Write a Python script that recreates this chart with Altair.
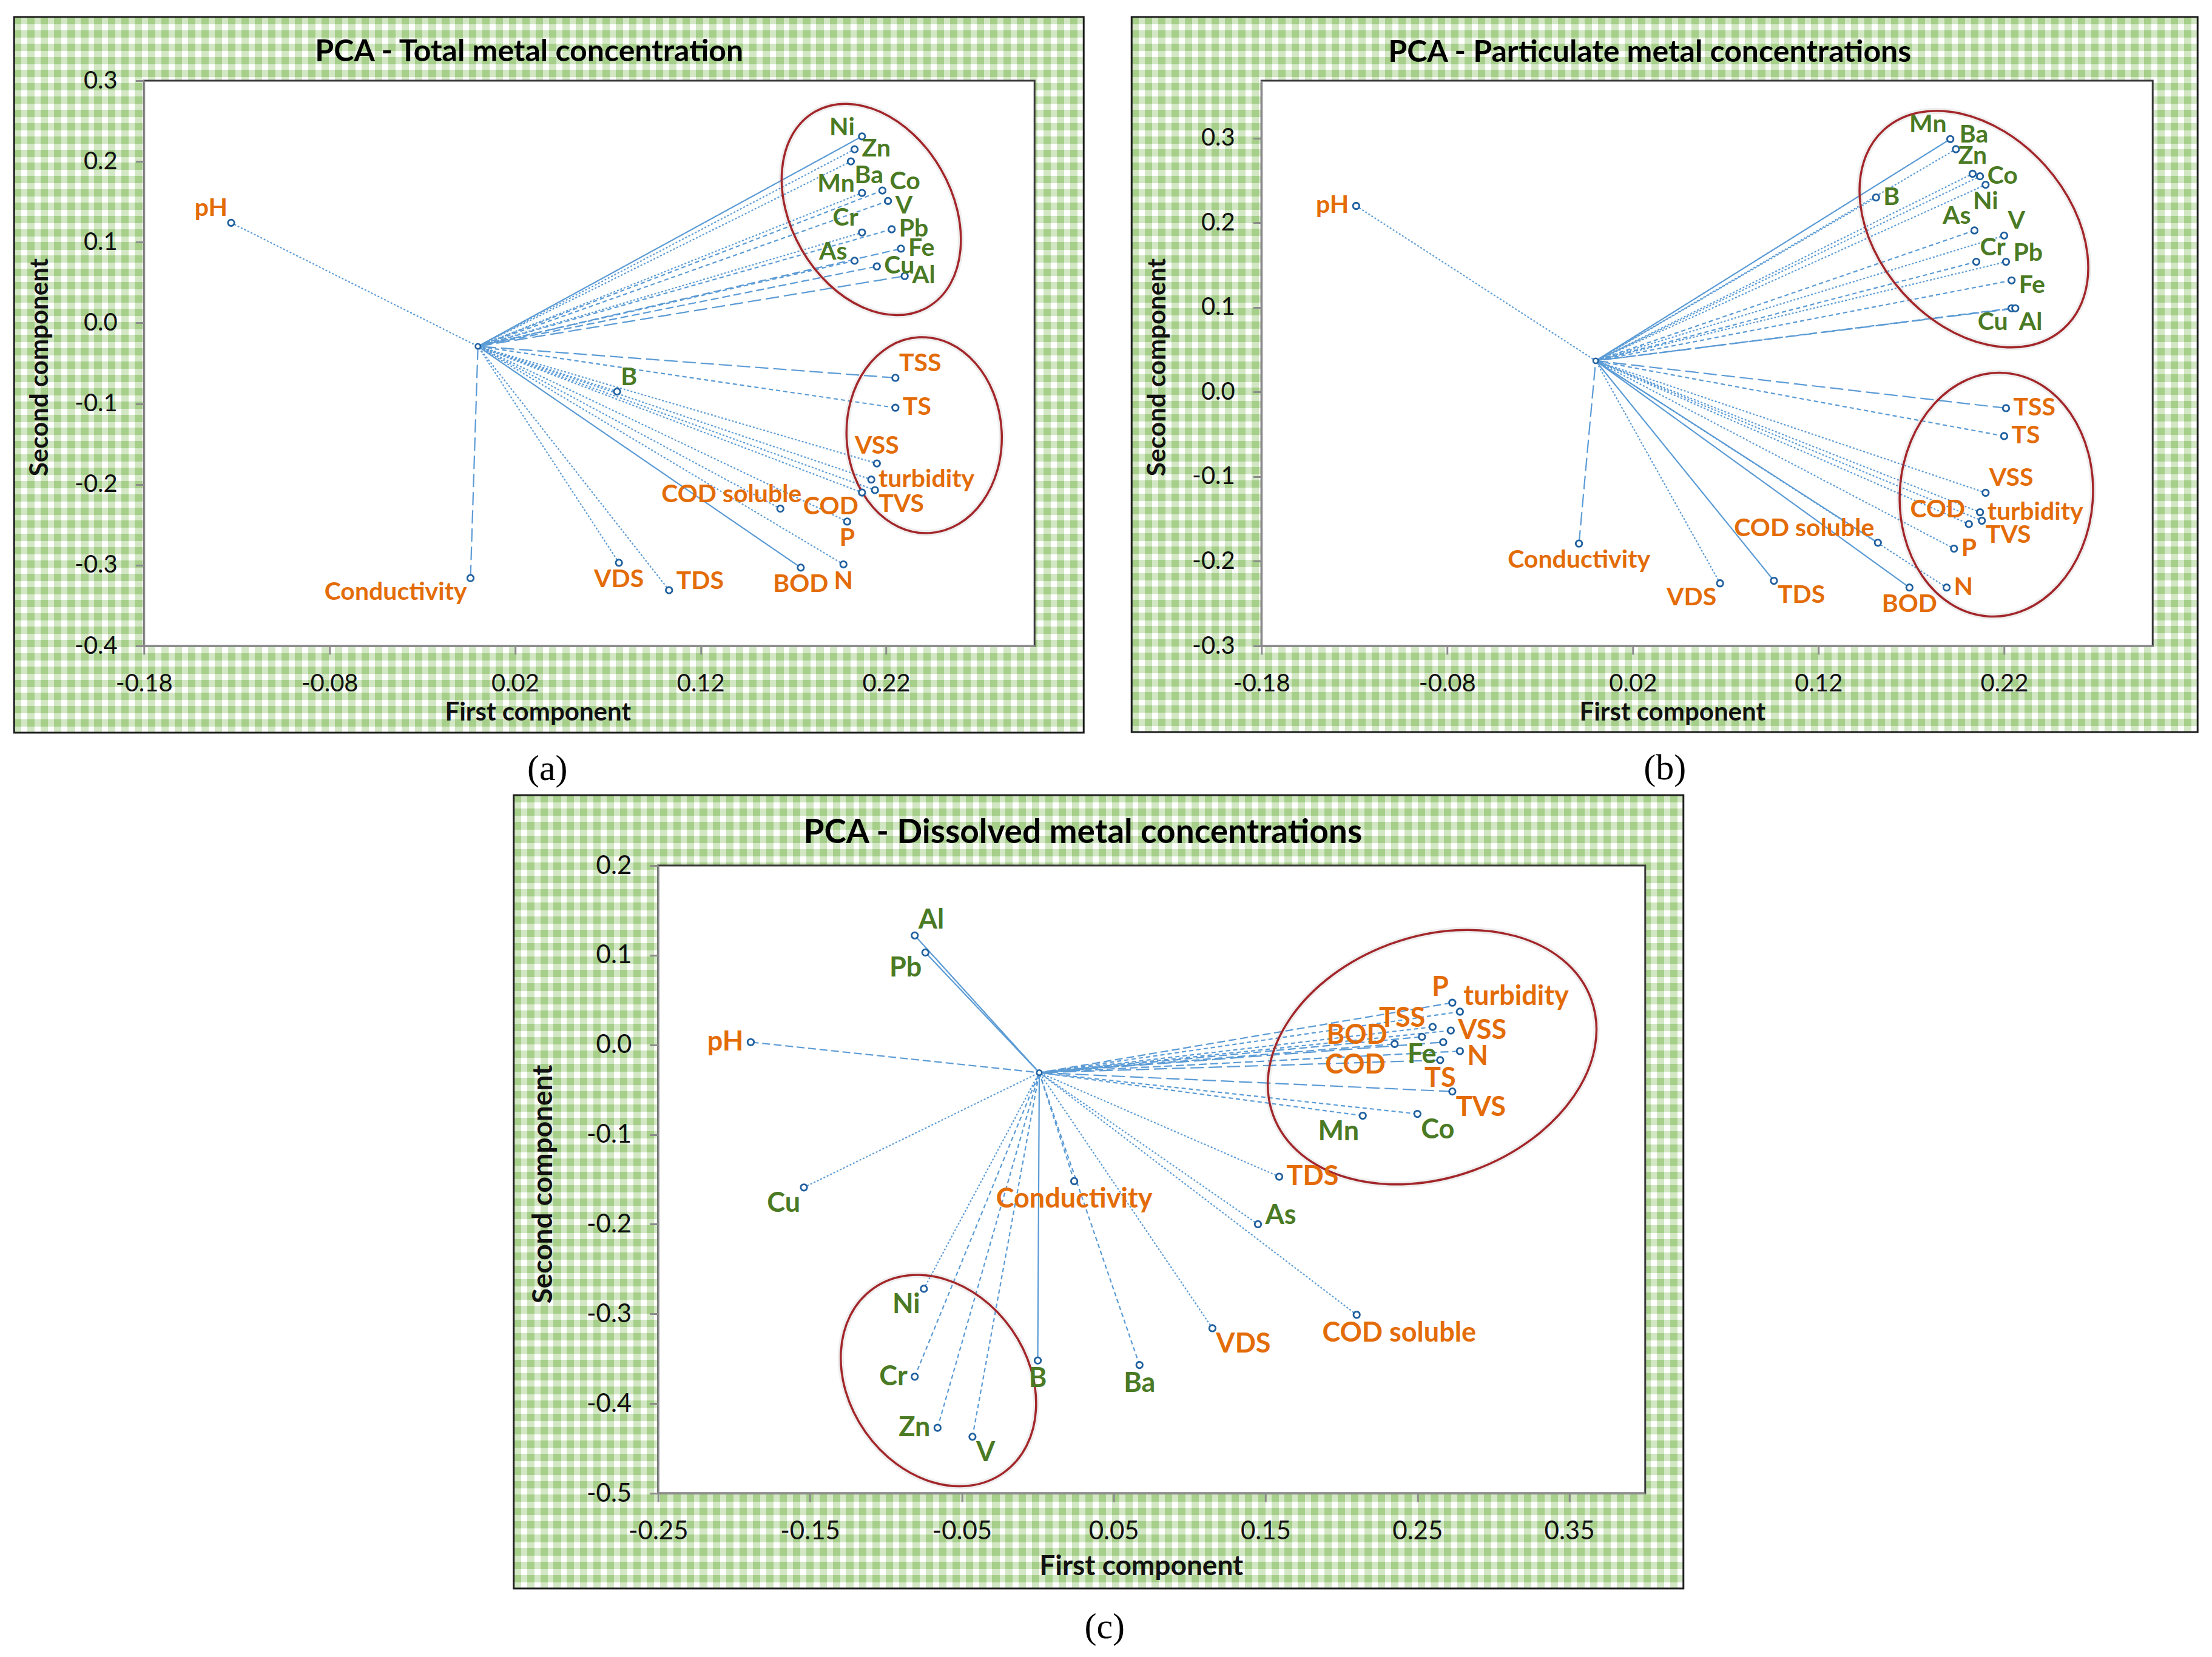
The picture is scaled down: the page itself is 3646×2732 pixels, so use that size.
import altair as alt
import pandas as pd

METALS = ["Al", "As", "B", "Ba", "Co", "Cr", "Cu", "Fe", "Mn", "Ni", "Pb", "V", "Zn"]

# ---------------- (a) Total metal concentration ----------------
names_a = ["Ni", "Zn", "Ba", "Mn", "Co", "V", "Cr", "Pb", "Fe", "As", "Cu", "Al", "B",
           "pH", "TSS", "TS", "VSS", "turbidity", "TVS", "COD", "P", "COD soluble",
           "VDS", "TDS", "BOD", "N", "Conductivity"]
pc1_a = [0.207, 0.203, 0.201, 0.207, 0.218, 0.221, 0.207, 0.223, 0.228, 0.203, 0.215, 0.230, 0.075,
         -0.133, 0.225, 0.225, 0.215, 0.212, 0.214, 0.207, 0.199, 0.163,
         0.076, 0.103, 0.174, 0.197, -0.004]
pc2_a = [0.231, 0.215, 0.200, 0.161, 0.164, 0.151, 0.112, 0.116, 0.092, 0.077, 0.070, 0.058, -0.085,
         0.124, -0.068, -0.105, -0.174, -0.194, -0.207, -0.210, -0.246, -0.230,
         -0.297, -0.331, -0.303, -0.299, -0.316]
origin_a = [0.000, -0.029]
ell_x_a = [0.212, 0.2405]
ell_y_a = [0.1405, -0.139]

# ---------------- (b) Particulate metal concentrations ----------------
names_b = ["Mn", "Ba", "Zn", "Co", "Ni", "B", "As", "V", "Cr", "Pb", "Fe", "Cu", "Al",
           "pH", "TSS", "TS", "VSS", "turbidity", "TVS", "COD", "P", "COD soluble",
           "BOD", "N", "VDS", "TDS", "Conductivity"]
pc1_b = [0.191, 0.194, 0.203, 0.207, 0.210, 0.151, 0.204, 0.220, 0.205, 0.221, 0.224, 0.224, 0.226,
         -0.129, 0.221, 0.220, 0.210, 0.207, 0.208, 0.201, 0.193, 0.152,
         0.169, 0.189, 0.067, 0.096, -0.009]
pc2_b = [0.299, 0.287, 0.258, 0.255, 0.245, 0.230, 0.191, 0.185, 0.154, 0.154, 0.132, 0.099, 0.099,
         0.220, -0.019, -0.052, -0.119, -0.142, -0.152, -0.156, -0.185, -0.178,
         -0.231, -0.231, -0.226, -0.223, -0.179]
origin_b = [0.000, 0.037]
ell_x_b = [0.2037, 0.2158]
ell_y_b = [0.1926, -0.1212]

# ---------------- (c) Dissolved metal concentrations ----------------
names_c = ["Al", "Pb", "Cu", "As", "Ni", "B", "Ba", "Cr", "Zn", "V", "Fe", "Mn", "Co",
           "pH", "Conductivity", "TDS", "VDS", "COD soluble", "P", "turbidity", "TSS",
           "VSS", "COD", "BOD", "N", "TS", "TVS"]
pc1_c = [-0.081, -0.074, -0.154, 0.145, -0.075, 0.000, 0.067, -0.081, -0.066, -0.043, 0.253, 0.214, 0.250,
         -0.189, 0.024, 0.159, 0.115, 0.210, 0.273, 0.278, 0.260,
         0.272, 0.267, 0.235, 0.278, 0.265, 0.273]
pc2_c = [0.122, 0.103, -0.159, -0.200, -0.272, -0.352, -0.357, -0.370, -0.427, -0.437, 0.009, -0.079, -0.077,
         0.003, -0.152, -0.147, -0.316, -0.301, 0.047, 0.037, 0.020,
         0.016, 0.003, 0.001, -0.007, -0.017, -0.052]
origin_c = [0.001, -0.031]
ell_x_c = [0.2597, -0.0654]
ell_y_c = [-0.0137, -0.3744]

# ---------------- label placement and line style (styling) ----------------
pos_a = ["Lup", "R", "BR", "Lup", "Rup", "Rdn", "TL", "R", "R", "Lup", "R", "R", "TR",
         "TL", "TR", "R", "T", "R", "BR", "BL", "B", "TLs", "B", "Rup", "B", "B", "BL"]
line_a = ["solid", "dot", "dot", "dot", "sdash", "sdash", "dot", "sdash", "dash", "sdash", "dash", "ldash", "dot",
          "dot", "ldash", "sdash", "dot", "dot", "dot", "dot", "dot", "dot", "dot", "dot", "solid", "dot", "ldash"]
pos_b = ["TL", "TR", "T", "R", "B", "R", "TL", "TR", "TR", "Rup", "Rdn", "BL", "BR",
         "L", "R", "R", "TR", "R", "BR", "TL", "R", "TL", "B", "R", "BL", "BR", "B"]
line_b = ["solid", "dot", "dot", "dot", "dot", "dot", "sdash", "dot", "sdash", "dot", "sdash", "dash", "ldash",
          "dot", "ldash", "sdash", "dot", "dot", "dot", "dot", "dot", "solid", "solid", "dot", "dot", "solid", "ldash"]
pos_c = ["TR", "BL", "BL", "Rup", "BL", "B", "B", "L", "L", "BR", "B", "BL", "BR",
         "L", "B", "R", "BR", "Bs", "TL", "TR", "Lup", "R", "BLfar", "Lup", "Rdn", "B", "BR"]
line_c = ["solid", "solid", "dot", "dot", "dot", "solid", "sdash", "sdash", "sdash", "sdash", "dash", "sdash", "sdash",
          "dash", "sdash", "dot", "dot", "dot", "dash", "sdash", "sdash", "sdash", "ldash", "dash", "dash", "ldash", "ldash"]

# ellipse styling: (semi-major px, semi-minor px, rotation deg)
ell_style_a = [(186, 132.5, 330), (161.6, 127.9, 357)]
ell_style_b = [(220.9, 176.7, 318), (201.1, 168.6, 4)]
ell_style_c = [(279, 162.8, 70), (186, 127.9, 325)]

GREEN = "#4A7A24"
ORANGE = "#E36C09"
LINE = "#5B9BD5"
MARKER = "#1F5F9E"
RING = "#A3262A"
CHECK_G = "#A6CF8A"
CHECK_W = "#FFFFFF"
FONT = "Lato"
SERIF = "Liberation Serif"

DASH = {"solid": [1, 0], "dot": [3, 3], "sdash": [7, 5], "dash": [13, 6], "ldash": [22, 8]}
PLACE = {
    "R": dict(align="left", baseline="middle", dx=12, dy=0),
    "Rup": dict(align="left", baseline="middle", dx=12, dy=-14),
    "Rdn": dict(align="left", baseline="middle", dx=12, dy=9),
    "L": dict(align="right", baseline="middle", dx=-12, dy=0),
    "Lup": dict(align="right", baseline="middle", dx=-12, dy=-14),
    "T": dict(align="center", baseline="bottom", dx=0, dy=-7),
    "B": dict(align="center", baseline="top", dx=0, dy=8),
    "Bs": dict(align="center", baseline="top", dx=70, dy=8),
    "TR": dict(align="left", baseline="bottom", dx=6, dy=-2),
    "TL": dict(align="right", baseline="bottom", dx=-6, dy=-2),
    "TLs": dict(align="right", baseline="bottom", dx=35, dy=-2),
    "BR": dict(align="left", baseline="top", dx=6, dy=4),
    "BL": dict(align="right", baseline="top", dx=-6, dy=4),
    "BLfar": dict(align="right", baseline="middle", dx=-95, dy=38),
}


def ellipse_path(r):
    k = 0.5523
    a = r
    return (f"M0,-1 C{k*a:.4f},-1 {a:.4f},{-k:.4f} {a:.4f},0 "
            f"C{a:.4f},{k:.4f} {k*a:.4f},1 0,1 "
            f"C{-k*a:.4f},1 {-a:.4f},{k:.4f} {-a:.4f},0 "
            f"C{-a:.4f},{-k:.4f} {-k*a:.4f},-1 0,-1 Z")


def stripes(length, along_x, period=22, frac=0.55):
    n = max(1, round(length / period))
    stops = []
    for i in range(n):
        a, b, c = i / n, (i + frac) / n, (i + 1) / n
        stops += [alt.GradientStop(color=CHECK_G, offset=round(a, 6)),
                  alt.GradientStop(color=CHECK_G, offset=round(b, 6)),
                  alt.GradientStop(color=CHECK_W, offset=round(b, 6)),
                  alt.GradientStop(color=CHECK_W, offset=round(c, 6))]
    if along_x:
        return alt.Gradient(gradient="linear", stops=stops, x1=0, x2=1, y1=0, y2=0)
    return alt.Gradient(gradient="linear", stops=stops, x1=0, x2=0, y1=0, y2=1)


def make_panel(names, pc1, pc2, pos, line, origin, ecx, ecy, ell_style, g):
    df = pd.DataFrame({"name": names, "pc1": pc1, "pc2": pc2, "pos": pos, "line": line})
    df["grp"] = ["metal" if n in METALS else "param" for n in names]
    df["ox"] = origin[0]
    df["oy"] = origin[1]
    W, H = g["W"], g["H"]
    minus = "replace(datum.label, '\u2212', '-')"
    common = dict(domainColor="#8C8C8C", domainWidth=3, tickColor="#8C8C8C", tickWidth=3, tickSize=14,
                  labelFont=FONT, labelFontSize=g["fs_tick"], labelColor="#111111",
                  titleFont=FONT, titleFontSize=g["fs_axis"], titleFontWeight="bold", titleColor="#111111",
                  grid=False, zindex=1, labelOverlap=False, labelFlush=False, labelExpr=minus,
                  titleAlign="center", titleBaseline="middle")
    xaxis = alt.Axis(values=g["xticks"], format=".2f", title="First component", labelPadding=28,
                     titleX=g["xt"][0], titleY=g["xt"][1], titleAngle=0, **common)
    yaxis = alt.Axis(values=g["yticks"], format=".1f", title="Second component", labelPadding=30,
                     titleX=g["yt"][0], titleY=g["yt"][1], titleAngle=270, **common)
    xs = alt.Scale(domain=g["xdom"], nice=False, zero=False)
    ys = alt.Scale(domain=g["ydom"], nice=False, zero=False)
    X = alt.X("pc1:Q", scale=xs, axis=xaxis)
    Y = alt.Y("pc2:Q", scale=ys, axis=yaxis)
    one = pd.DataFrame({"k": [0]})
    fx0, fx1, fy0, fy1 = g["frame"]
    frame_enc = dict(x=alt.value(fx0), x2=alt.value(fx1), y=alt.value(fy0), y2=alt.value(fy1))
    layers = [
        alt.Chart(one).mark_rect(fill=stripes(fx1 - fx0, True)).encode(**frame_enc),
        alt.Chart(one).mark_rect(fill=stripes(fy1 - fy0, False), fillOpacity=0.5).encode(**frame_enc),
        alt.Chart(one).mark_rect(fill="white", fillOpacity=0, stroke="#1E1E1E", strokeWidth=3).encode(**frame_enc),
        alt.Chart(one).mark_rect(fill="white", stroke="#3C3C3C", strokeWidth=3).encode(
            x=alt.value(0), x2=alt.value(W), y=alt.value(0), y2=alt.value(H)),
    ]

    # lines from origin to loadings
    layers.append(alt.Chart(df).mark_rule(color=LINE, strokeWidth=2.2).encode(
        x=X, y=Y, x2=alt.X2("ox"), y2=alt.Y2("oy"),
        strokeDash=alt.StrokeDash("line:N", scale=alt.Scale(domain=list(DASH), range=list(DASH.values())),
                                  legend=None)))

    # ellipses
    eids = [f"e{i}" for i in range(len(ecx))]
    edf = pd.DataFrame({"pc1": ecx, "pc2": ecy, "eid": eids,
                        "size": [(2 * s[0]) ** 2 for s in ell_style],
                        "ang": [s[2] for s in ell_style]})
    paths = [ellipse_path(s[1] / s[0]) for s in ell_style]
    shp = alt.Shape("eid:N", scale=alt.Scale(domain=eids, range=paths), legend=None)
    base_e = alt.Chart(edf).encode(x=X, y=Y, shape=shp, size=alt.Size("size:Q", scale=None),
                                   angle=alt.Angle("ang:Q", scale=None))
    layers.append(base_e.mark_point(filled=False, color="#7F7F7F", strokeWidth=10, opacity=0.13))
    layers.append(base_e.mark_point(filled=False, color=RING, strokeWidth=3.5, opacity=1))

    # markers
    layers.append(alt.Chart(df).mark_point(shape="circle", filled=True, fill="white", stroke=MARKER,
                                           strokeWidth=2.8, size=110, opacity=1).encode(x=X, y=Y))
    odf = pd.DataFrame({"pc1": [origin[0]], "pc2": [origin[1]]})
    layers.append(alt.Chart(odf).mark_point(shape="circle", filled=True, fill="white", stroke=MARKER,
                                            strokeWidth=2.5, size=70, opacity=1).encode(x=X, y=Y))

    # labels
    cscale = alt.Scale(domain=["metal", "param"], range=[GREEN, ORANGE])
    for code in dict.fromkeys(pos):
        p = PLACE[code]
        layers.append(alt.Chart(df).transform_filter(alt.datum.pos == code).mark_text(
            font=FONT, fontWeight="bold", fontSize=g["fs_label"], **p).encode(
            x=X, y=Y, text="name:N", color=alt.Color("grp:N", scale=cscale, legend=None)))

    layers.append(alt.Chart(one).mark_text(text=g["title"], font=FONT, fontWeight="bold",
                                           fontSize=g["fs_title"], color="#000000", align="center",
                                           baseline="alphabetic").encode(
        x=alt.value(g["tpos"][0]), y=alt.value(g["tpos"][1])))
    layers.append(alt.Chart(one).mark_text(text=g["tag"], font=SERIF, fontSize=60, color="#000000",
                                           align="center", baseline="middle").encode(
        x=alt.value(g["tagpos"][0]), y=alt.value(g["tagpos"][1])))
    return alt.layer(*layers).properties(width=W, height=H)


xt_ab = [-0.18, -0.08, 0.02, 0.12, 0.22]
geo_a = dict(W=1468, H=932, frame=(-214, 1549, -105, 1075), xdom=[-0.18, 0.30], xticks=xt_ab,
             ydom=[-0.4, 0.3], yticks=[round(-0.4 + 0.1 * i, 1) for i in range(8)],
             title="PCA - Total metal concentration", fs_title=50, tpos=(635, -32),
             tag="(a)", tagpos=(665, 1135), fs_label=41, fs_tick=40, fs_axis=42,
             xt=(649, 109), yt=(-172, 472))
geo_b = dict(W=1469, H=932, frame=(-214, 1543, -105, 1074), xdom=[-0.18, 0.30], xticks=xt_ab,
             ydom=[-0.3, 0.368], yticks=[round(-0.3 + 0.1 * i, 1) for i in range(7)],
             title="PCA - Particulate metal concentrations", fs_title=50, tpos=(640, -31),
             tag="(b)", tagpos=(665, 1134), fs_label=41, fs_tick=40, fs_axis=42,
             xt=(677, 109), yt=(-172, 472))
geo_c = dict(W=1627, H=1035, frame=(-238, 1690, -116, 1192), xdom=[-0.25, 0.40],
             xticks=[-0.25, -0.15, -0.05, 0.05, 0.15, 0.25, 0.35],
             ydom=[-0.5, 0.2], yticks=[round(-0.5 + 0.1 * i, 1) for i in range(8)],
             title="PCA - Dissolved metal concentrations", fs_title=55, tpos=(700, -37),
             tag="(c)", tagpos=(736, 1256), fs_label=45, fs_tick=42, fs_axis=46,
             xt=(796, 120), yt=(-189, 525))

pa = make_panel(names_a, pc1_a, pc2_a, pos_a, line_a, origin_a, ell_x_a, ell_y_a, ell_style_a, geo_a)
pb = make_panel(names_b, pc1_b, pc2_b, pos_b, line_b, origin_b, ell_x_b, ell_y_b, ell_style_b, geo_b)
pc = make_panel(names_c, pc1_c, pc2_c, pos_c, line_c, origin_c, ell_x_c, ell_y_c, ell_style_c, geo_c)

top = alt.hconcat(pa, pb, spacing=75)
chart = alt.vconcat(top, pc, spacing=11, center=True).properties(
    padding={"left": 13, "top": 18, "right": 4, "bottom": 4}, background="white"
).configure_view(strokeWidth=0)

chart.save("out.html", embed_options={"renderer": "svg", "actions": False})
